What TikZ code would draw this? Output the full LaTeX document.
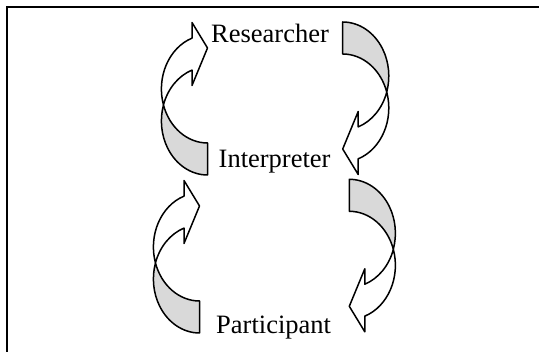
\documentclass[tikz,border=0pt]{standalone}
\usepackage{fontspec}
\setmainfont{Liberation Serif}
\tikzset{
  outline/.style={draw=black, line width=1.5pt, line join=round},
  backface/.style={outline, fill=gray!30},
  frontface/.style={outline, fill=white},
  labeltext/.style={font=\fontsize{26.5}{30}\selectfont, inner sep=0pt, anchor=base west},
  framebar/.style={line width=1.8pt, draw=black},
  curvedarrow/.pic={
    \path[backface] (0pt,0pt) ++(197.2:46.1pt and 54pt)
      arc[start angle=197.2, end angle=270, x radius=46.1pt, y radius=54pt]
      -- ++(0pt,-32pt)
      arc[start angle=270, end angle=162.8, x radius=46.1pt, y radius=54pt]
      -- cycle;
    \path[frontface] (0pt,0pt) ++(197.2:46.1pt and 54pt)
      arc[start angle=197.2, end angle=109.6, x radius=46.1pt, y radius=54pt]
      -- (-15.5pt,66.5pt) -- (0pt,41pt) -- (-15.5pt,3.5pt)
      -- (-15.5pt,18.9pt)
      arc[start angle=109.6, end angle=162.8, x radius=46.1pt, y radius=54pt]
      -- cycle;
  }
}
\begin{document}
\begin{tikzpicture}[x=1pt,y=1pt]
  \useasboundingbox (0,0) rectangle (539,352);
  \coordinate (fb) at (7,-4);
  \coordinate (fc) at (7,345);
  \coordinate (fr) at (545,345);
  \path[framebar] (fb) -- (fc) -- (fr);
  \pic (tl) at (207.5,263) {curvedarrow};
  \pic (bl) at (199.5,105) {curvedarrow};
  \pic[rotate=180] (tr) at (342.7,244) {curvedarrow};
  \pic[rotate=180] (br) at (349.3,86.7) {curvedarrow};
  \node[labeltext] (researcher) at (211,309.5) {Researcher};
  \node[labeltext] (interpreter) at (218.5,184.7) {Interpreter};
  \node[labeltext] (participant) at (216,18.7) {Participant};
\end{tikzpicture}
\end{document}
